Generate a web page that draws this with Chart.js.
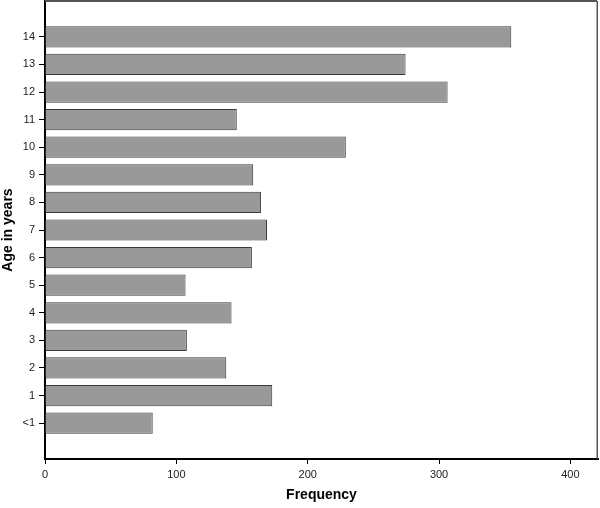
<!DOCTYPE html>
<html>
<head>
<meta charset="utf-8">
<script src="https://cdn.jsdelivr.net/npm/chart.js@4"></script>
<style>
html,body{margin:0;padding:0;background:#fff;}
#wrap{width:600px;height:508px;}
</style>
</head>
<body>
<div id="wrap"><canvas id="c" width="600" height="508"></canvas></div>
<script>
const ageLabels = ['<1','1','2','3','4','5','6','7','8','9','10','11','12','13','14'];
const frequencies = [82, 173, 138, 108, 142, 107, 157.5, 169, 164.5, 158.5, 229, 146, 306.5, 274.5, 355];
const xTicks = [0, 100, 200, 300, 400];
const xMax = 421;

const dataPoints = frequencies.map((v, i) => ({x: v, y: i}));

const frame = {
  id: 'frame',
  afterDraw(chart) {
    const a = chart.chartArea, ctx = chart.ctx;
    ctx.save();
    ctx.strokeStyle = '#555';
    ctx.lineWidth = 2;
    ctx.beginPath();
    ctx.moveTo(a.left, 1);
    ctx.lineTo(a.right - 1, 1);
    ctx.stroke();
    ctx.lineWidth = 1.5;
    ctx.beginPath();
    ctx.moveTo(a.right - 0.75, 1);
    ctx.lineTo(a.right - 0.75, a.bottom);
    ctx.stroke();
    ctx.restore();
  }
};

new Chart(document.getElementById('c'), {
  type: 'bar',
  data: {
    datasets: [{
      data: dataPoints,
      backgroundColor: '#999999',
      borderColor: '#3a3a3a',
      borderWidth: 1,
      borderSkipped: 'start',
      barPercentage: 0.77,
      categoryPercentage: 1
    }]
  },
  options: {
    indexAxis: 'y',
    responsive: false,
    animation: false,
    layout: {padding: {top: 1, right: 2, left: 0, bottom: 0}},
    plugins: {legend: {display: false}, tooltip: {enabled: false}},
    scales: {
      x: {
        type: 'linear',
        min: 0,
        max: xMax,
        offset: false,
        afterBuildTicks(s) { s.ticks = xTicks.map(v => ({value: v})); },
        afterFit(s) { s.height = 49; s.paddingRight = 0; s.paddingLeft = 0; },
        border: {display: true, color: '#000', width: 2},
        grid: {offset: false, drawOnChartArea: false, drawTicks: true, tickLength: 5, color: '#000', lineWidth: 1},
        ticks: {color: '#222', font: {family: 'Liberation Sans', size: 11}, padding: 4, maxRotation: 0},
        title: {display: true, text: 'Frequency', color: '#000', font: {family: 'Liberation Sans', size: 14, weight: 'bold'}, padding: {top: 0, bottom: 4}}
      },
      y: {
        type: 'linear',
        min: -1.3,
        max: 15.3,
        offset: false,
        afterBuildTicks(s) { s.ticks = ageLabels.map((l, i) => ({value: i})); },
        afterFit(s) { s.width = 45; s.paddingTop = 0; s.paddingBottom = 0; },
        border: {display: true, color: '#000', width: 2},
        grid: {offset: false, drawOnChartArea: false, drawTicks: true, tickLength: 6, color: '#000', lineWidth: 1},
        ticks: {color: '#222', font: {family: 'Liberation Sans', size: 11}, padding: 4,
          callback: (v) => ageLabels[v] !== undefined ? ageLabels[v] : ''},
        title: {display: true, text: 'Age in years', color: '#000', font: {family: 'Liberation Sans', size: 14, weight: 'bold'}, padding: {top: 0, bottom: 0}}
      }
    }
  },
  plugins: [frame]
});
</script>
</body>
</html>
